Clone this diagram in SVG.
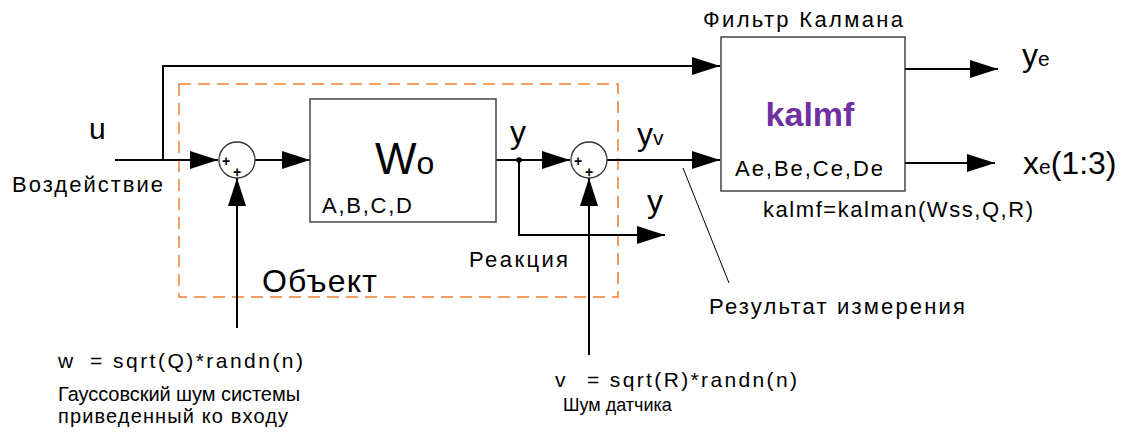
<svg xmlns="http://www.w3.org/2000/svg" width="1127" height="432" viewBox="0 0 1127 432">
<style>
text{font-family:"Liberation Sans",Arial,sans-serif;fill:#000}
.s{font-size:22px}
.t{font-size:20px}
.m{font-size:32px}
.ln{fill:none;stroke:#000;stroke-width:2}
.box{fill:#fff;stroke:#444;stroke-width:1.5}
.sum{fill:#fff;stroke:#333;stroke-width:1.3}
.pl{font-size:14px;font-weight:bold;text-anchor:middle}
</style>
<defs>
<marker id="ah" markerUnits="userSpaceOnUse" markerWidth="28" markerHeight="18" refX="28" refY="9" orient="auto">
<path d="M0,0 L28,9 L0,18 z" fill="#000"/>
</marker>
</defs>
<rect width="1127" height="432" fill="#fff"/>
<g id="object-frame">
<rect x="179" y="84" width="439" height="213" fill="none" stroke="#ED7D31" stroke-width="1.5" stroke-dasharray="12,7"/>
<text x="262" y="292" class="m" textLength="115" lengthAdjust="spacing">Объект</text>
</g>
<g id="connectors">
<path class="ln" d="M115,160 H218" marker-end="url(#ah)"/>
<path class="ln" d="M163,160 V66 H720" marker-end="url(#ah)"/>
<path class="ln" d="M255,160 H310" marker-end="url(#ah)"/>
<path class="ln" d="M496,160 H570" marker-end="url(#ah)"/>
<path class="ln" d="M519,160 V235 H665" marker-end="url(#ah)"/>
<path class="ln" d="M607,160 H720" marker-end="url(#ah)"/>
<path class="ln" d="M237,328 V178" marker-end="url(#ah)"/>
<path class="ln" d="M589,355 V178" marker-end="url(#ah)"/>
<path class="ln" d="M905,69 H998" marker-end="url(#ah)"/>
<path class="ln" d="M905,163 H995" marker-end="url(#ah)"/>
<circle cx="519" cy="160" r="2.8" fill="#000"/>
<line x1="683" y1="168" x2="729" y2="283" stroke="#000" stroke-width="1"/>
</g>
<g id="sum1">
<circle class="sum" cx="237" cy="160" r="18"/>
<text class="pl" x="226" y="166">+</text>
<text class="pl" x="237" y="177">+</text>
</g>
<g id="sum2">
<circle class="sum" cx="589" cy="160" r="18"/>
<text class="pl" x="578" y="166">+</text>
<text class="pl" x="589" y="177">+</text>
</g>
<g id="plant">
<rect class="box" x="310" y="99" width="186" height="123"/>
<text x="375" y="174" font-size="44">W<tspan font-size="32">o</tspan></text>
<text x="322" y="213" class="s" textLength="90" lengthAdjust="spacing">A,B,C,D</text>
</g>
<g id="kalman">
<rect class="box" x="721" y="37" width="184" height="154"/>
<text x="703" y="27" class="s" textLength="200" lengthAdjust="spacing">Фильтр Калмана</text>
<text x="810" y="126" font-size="34" font-weight="bold" text-anchor="middle" style="fill:#7030A0">kalmf</text>
<text x="735" y="176" class="s" textLength="148" lengthAdjust="spacing">Ae,Be,Ce,De</text>
<text x="763" y="217" class="s" textLength="270" lengthAdjust="spacing">kalmf=kalman(Wss,Q,R)</text>
</g>
<g id="labels">
<text x="89" y="139" font-size="30">u</text>
<text x="12" y="192" class="s" textLength="151" lengthAdjust="spacing">Воздействие</text>
<text x="510" y="143" font-size="32">y</text>
<text x="637" y="145" font-size="32">y<tspan font-size="21">v</tspan></text>
<text x="647" y="212" font-size="32">y</text>
<text x="469" y="267" class="s" textLength="99" lengthAdjust="spacing">Реакция</text>
<text x="709" y="314" class="s" textLength="256" lengthAdjust="spacing">Результат измерения</text>
<text x="1022" y="66" font-size="32">y<tspan font-size="21">e</tspan></text>
<text x="1023" y="174" font-size="32">x<tspan font-size="21">e</tspan>(1:3)</text>
</g>
<g id="noise-w">
<text x="58" y="368" font-size="21">w<tspan x="90" textLength="213" lengthAdjust="spacing">= sqrt(Q)*randn(n)</tspan></text>
<text x="58" y="401" class="t" textLength="242" lengthAdjust="spacing">Гауссовский шум системы</text>
<text x="58" y="423" class="t" textLength="230" lengthAdjust="spacing">приведенный ко входу</text>
</g>
<g id="noise-v">
<text x="555" y="387" font-size="21">v<tspan x="587" textLength="210" lengthAdjust="spacing">= sqrt(R)*randn(n)</tspan></text>
<text x="563" y="411" font-size="18">Шум датчика</text>
</g>
</svg>
